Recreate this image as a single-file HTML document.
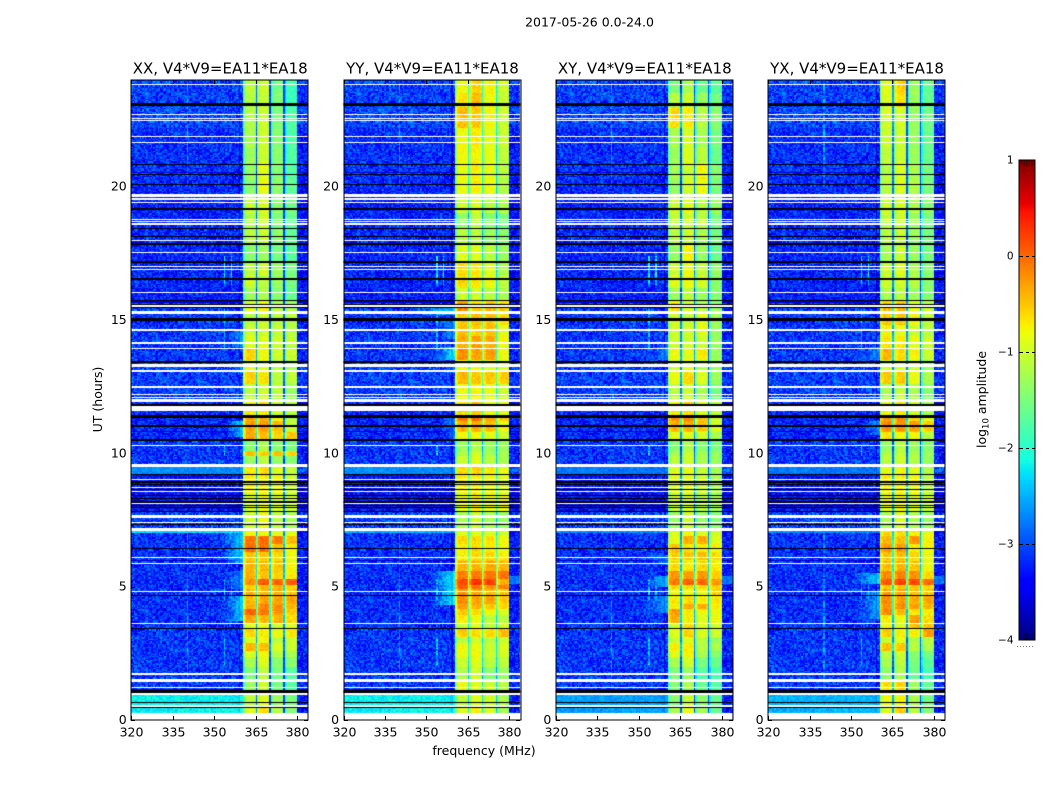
<!DOCTYPE html>
<html lang="en">
<head>
<meta charset="utf-8">
<title>2017-05-26 0.0-24.0</title>
<style>
html,body{margin:0;padding:0;background:#fff}
#figure{position:relative;width:1050px;height:800px;overflow:hidden;background:#fff;font-family:"DejaVu Sans","Liberation Sans",sans-serif}
#figure canvas{position:absolute;left:0;top:0}
#figure svg{position:absolute;left:0;top:0}
text{font-family:"DejaVu Sans","Liberation Sans",sans-serif;fill:#000}
</style>
</head>
<body>
<div id="figure">
<canvas id="heat" width="1050" height="800"></canvas>
<svg id="overlay" width="1050" height="800" viewBox="0 0 1050 800">
  <text x="589.5" y="26.5" font-size="12.5" text-anchor="middle">2017-05-26 0.0-24.0</text>
  <text x="484" y="755" font-size="12.5" text-anchor="middle">frequency (MHz)</text>
  <text transform="translate(102,399.5) rotate(-90)" font-size="12.5" text-anchor="middle">UT (hours)</text>
  <text transform="translate(986,399.5) rotate(-90)" font-size="12.5" text-anchor="middle">log<tspan font-size="8.5" dy="2.5">10</tspan><tspan dy="-2.5"> amplitude</tspan></text>
  <g id="axes"></g>
  <g id="cbar"></g>
</svg>
</div>
<script>
// ---- categories and axis ticks ----
const panelTitles = ['XX, V4*V9=EA11*EA18','YY, V4*V9=EA11*EA18','XY, V4*V9=EA11*EA18','YX, V4*V9=EA11*EA18'];
const freqTicks = [320,335,350,365,380];
const hourTicks = [0,5,10,15,20];
const colorTicks = [1,0,-1,-2,-3,-4];
const spwRanges = [[360.5,365],[365.5,370],[370.5,375],[375.5,380]];
// drop in log10 amplitude at the gaps between spectral windows, per panel
const gapDrop = [-1.75,-1.2,-1.7,-1.7];
// ---- time bins (UT hours) shared by the amplitude tables below ----
const hourEdges = [0,.5,1,1.5,2,2.35,2.6,2.9,3.1,3.4,3.65,3.95,4.15,4.35,4.65,4.9,5.05,5.3,5.6,6,6.3,6.6,6.9,7.1,7.8,8.5,9.2,9.6,9.9,10.1,10.5,10.8,11.2,11.45,12,12.6,13.05,13.5,13.9,14.4,14.8,15.3,15.7,16.2,16.7,17.2,17.8,18.4,19,19.7,20.3,20.9,21.5,22.2,23,23.5,24];
// log10 amplitude of the out-of-band noise floor per time bin
const backgroundLevel = [-3.15,-3.15,-3.15,-3.15,-3.15,-3.15,-3.15,-3.15,-3.15,-3.2,-3.2,-3.2,-3.2,-3.2,-3.2,-3.2,-3.2,-3.2,-3.2,-3.2,-3.2,-3.2,-3.2,-3.1,-3.4,-3.4,-2.95,-3.15,-3.15,-3.15,-3.25,-3.25,-3.25,-3.25,-3.1,-3.1,-3.1,-3.15,-3.15,-3.15,-3.15,-3.15,-3.3,-3.25,-3.25,-3.25,-3.25,-3.25,-3.3,-3.25,-3.2,-3.2,-3.2,-3.05,-3.1,-3.1];
// log10 amplitude per time bin, one tuple per spectral window
const xxBands = [[-.9,-.6,-1.1,-1.4],[-1.1,-.9,-1.3,-1.5],[-1.3,-1,-1.5,-1.7],[-1.5,-1.1,-1.5,-1.7],[-1.2,-.9,-1.4,-1.4],[-.9,-.8,-1.1,-1.2],[-.4,-.45,-.9,-1],[-.9,-.8,-1.1,-1],[-.6,-.7,-.8,-.7],[-.9,-.8,-1,-.9],[-.3,-.4,-.4,-.6],[.05,-.05,-.25,-.5],[-.4,-.15,-.2,-.4],[-.45,-.3,-.3,-.35],[-.4,-.4,-.35,-.5],[-.6,-.4,-.4,-.55],[-.2,.1,.05,.1],[-.35,-.5,-.55,-.7],[-.4,-.45,-.5,-.75],[-.45,-.5,-.6,-.8],[0,0,-.45,-.7],[-.05,0,-.1,-.45],[-.8,-.8,-.85,-.9],[-1,-.8,-1.1,-1.2],[-.9,-.8,-.9,-1],[-.7,-.7,-.8,-1],[-.7,-.6,-.9,-1.1],[-1.3,-1.1,-1.3,-1.4],[-.45,-.55,-.45,-.55],[-1.4,-1.2,-1.4,-1.5],[-.35,-.45,-.6,-.5],[-.25,-.25,-.45,-1],[-.35,-.4,-.7,-1.1],[-.7,-.7,-1,-1.1],[-1.1,-1,-1.1,-1.3],[-.55,-.65,-1.1,-1.1],[-.9,-.9,-1.1,-1.2],[-.55,-.8,-1,-1],[-.9,-.9,-1,-1.1],[-1,-1,-1.05,-1.1],[-1.1,-1,-1.1,-1.1],[-.85,-.7,-1.1,-1.2],[-1.3,-1.2,-1.4,-1.6],[-1,-1.1,-1.3,-1.5],[-1.1,-1,-1.3,-1.5],[-1.4,-1.3,-1.5,-1.7],[-1.1,-1,-1.35,-1.65],[-1.2,-1,-1.45,-1.6],[-1.05,-.9,-1.35,-1.55],[-1.4,-.85,-1.35,-1.65],[-1.3,-.85,-1.4,-1.7],[-1.3,-1,-1.4,-1.75],[-1.2,-1,-1.4,-1.75],[-1.15,-1,-1.45,-1.75],[-1.15,-1.05,-1.45,-1.85],[-1.1,-1,-1.55,-1.85]];
const yyBands = [[-.9,-.7,-.9,-1.2],[-1.1,-.9,-1,-1.2],[-.8,-.9,-1,-1.1],[-1.2,-1,-1.4,-1.3],[-1,-.9,-1.1,-1.1],[-.8,-.8,-1,-.95],[-.8,-.8,-1,-.9],[-1.1,-1,-1.1,-1],[-.55,-.6,-.6,-.45],[-1,-.9,-1.1,-1],[-.7,-.8,-1.1,-1.1],[-.5,-.6,-.8,-.9],[-.3,-.4,-.5,-.6],[-.2,-.3,-.3,-.55],[-.25,-.3,-.4,-.5],[.05,-.05,-.25,-.1],[.15,.3,.25,-.35],[-.1,-.1,-.05,-.05],[-.4,-.4,-.35,-.4],[-.7,-.6,-.6,-.7],[-.7,-.6,-.7,-.8],[-.6,-.6,-.65,-.8],[-.9,-.9,-.9,-1],[-1.2,-1,-1.2,-1.3],[-.8,-.7,-.8,-.8],[-.7,-.7,-.8,-.9],[-.6,-.55,-.7,-.9],[-1,-.9,-1.1,-1.2],[-1.2,-1,-1.2,-1.2],[-1.3,-1.2,-1.3,-1.3],[-.8,-.8,-.9,-1],[-.35,-.35,-.45,-.8],[-.1,-.05,-.3,-.5],[-.6,-.5,-.8,-.9],[-.8,-.75,-.85,-1],[-.4,-.5,-.5,-.55],[-.8,-.8,-.85,-.9],[-.2,-.3,-.3,-.8],[-.35,-.3,-.35,-.8],[-.45,-.55,-.45,-.85],[-.5,-.45,-.45,-.6],[-.15,-.5,-.4,-.5],[-1,-1,-1.1,-1.2],[-.6,-.65,-.8,-1.1],[-.6,-.7,-.9,-1.2],[-.9,-.9,-1.1,-1.3],[-1.1,-1.1,-1.3,-1.4],[-1.4,-1.1,-1.4,-1.5],[-1,-.9,-1.1,-1.2],[-.85,-.75,-.8,-1.15],[-.8,-.7,-.85,-1.1],[-.8,-.75,-.85,-1.1],[-.8,-.7,-.85,-1],[-.45,-.5,-.75,-1],[-.65,-.45,-.8,-1],[-.8,-.55,-.75,-1]];
const xyBands = [[-1.2,-.8,-1.2,-1.6],[-1.4,-1,-1.4,-1.6],[-1.4,-1.2,-1.6,-1.7],[-1.5,-1.3,-1.7,-1.8],[-1.2,-1,-1.5,-1.6],[-.85,-.75,-1.2,-1.4],[-.7,-.7,-1.1,-1.2],[-1,-.9,-1.1,-1.3],[-.9,-.55,-.9,-1],[-1,-.6,-.9,-1],[-.35,-.7,-.9,-.8],[-.25,-.65,-.8,-.8],[-.75,-.35,-.35,-.7],[-.7,-.6,-.7,-.7],[-.8,-.8,-.8,-.55],[-.6,-.6,-.6,-.55],[-.1,.05,.05,-.25],[-.2,-.3,-.25,-.55],[-.6,-.7,-.6,-.7],[-.5,-.5,-.45,-.6],[-.45,-.65,-.7,-.75],[-.85,-.35,-.35,-.9],[-.9,-.8,-.9,-1],[-1.3,-1,-1.3,-1.4],[-1,-.95,-1.1,-1.2],[-.9,-.85,-1,-1.2],[-.9,-.85,-1.05,-1.3],[-1.1,-1,-1.2,-1.3],[-1.3,-1.05,-1.2,-1.3],[-1.4,-1.2,-1.4,-1.5],[-.9,-.9,-1,-1.2],[-.35,-.35,-.5,-.9],[-.25,-.2,-.45,-.95],[-.7,-.6,-.9,-1.1],[-1.1,-1,-1.2,-1.5],[-.8,-.6,-.9,-1.3],[-1,-.85,-1.1,-1.3],[-.8,-.85,-.7,-1.3],[-1,-1,-1,-1.3],[-1,-1,-.85,-1.3],[-.95,-1.05,-.85,-1.25],[-.6,-.9,-1.1,-1.3],[-1.3,-1.1,-1.3,-1.4],[-.9,-.8,-.95,-1.4],[-1,-.85,-1.05,-1.35],[-1.3,-.75,-1.3,-1.6],[-1.1,-1,-1.2,-1.5],[-1.1,-1,-1.1,-1.5],[-1,-.85,-1.1,-1.3],[-1.3,-1,-.8,-1.5],[-1.2,-1,-.75,-1.4],[-1.3,-.9,-1.1,-1.6],[-1.2,-.95,-1.2,-1.5],[-.6,-.7,-1.1,-1.4],[-1.1,-1,-1.3,-1.5],[-1.5,-1.2,-1.6,-1.7]];
const yxBands = [[-.9,-.5,-1.1,-1.4],[-.8,-.75,-1.2,-1.5],[-.6,-.55,-1.3,-1.6],[-1.4,-1.2,-1.6,-1.8],[-1.2,-1.1,-1.5,-1.7],[-1.1,-1,-1.4,-1.5],[-.45,-.5,-1.1,-1.2],[-1,-.9,-1.2,-1.1],[-.55,-.7,-.7,-.3],[-.8,-.9,-.45,-.5],[-.7,-.8,-.3,-.6],[-.15,-.4,-.7,-.7],[-.25,-.2,-.3,-.4],[-.2,-.25,-.35,-.35],[-.3,-.3,-.45,-.5],[-.55,-.5,-.5,-.6],[.1,.2,.2,0],[-.15,-.15,-.2,-.6],[-.45,-.4,-.5,-.8],[-.45,-.45,-.6,-.8],[-.25,-.25,-.7,-.75],[-.4,-.45,-.25,-.75],[-.6,-.6,-.7,-.85],[-1.2,-.9,-1.2,-1.3],[-.8,-.75,-.9,-1],[-.7,-.7,-.8,-1.1],[-.85,-.75,-.9,-1.2],[-1.1,-1,-1.15,-1.3],[-1.2,-1.1,-1.2,-1.3],[-1.3,-1.15,-1.3,-1.4],[-.7,-.8,-.8,-1.1],[-.15,-.2,-.3,-.5],[-.3,-.2,-.55,-.85],[-.8,-.7,-1,-1.2],[-1.2,-1.05,-1.2,-1.4],[-.5,-.55,-.8,-1.2],[-1,-.95,-1,-1.3],[-.4,-.6,-.75,-1],[-.65,-.7,-.85,-1],[-.75,-.85,-1,-1.1],[-.5,-.5,-.75,-1.05],[-.45,-.4,-.85,-1],[-1.2,-1.1,-1.3,-1.4],[-1,-.95,-1.15,-1.4],[-1,-.9,-1.2,-1.4],[-1.2,-1,-1.3,-1.5],[-1.1,-1,-1.3,-1.5],[-1.1,-1,-1.3,-1.5],[-1,-.9,-1.15,-1.4],[-1.1,-.95,-1.15,-1.5],[-1.1,-.9,-1.2,-1.5],[-1.1,-1,-1.3,-1.6],[-1,-1,-1.3,-1.6],[-.95,-.95,-1.3,-1.55],[-.9,-.65,-1.3,-1.6],[-.9,-.55,-1.3,-1.65]];
// out-of-band excess: [startHour, endHour, log10 amplitude, startMHz, endMHz]
const xxExcess = [[.2,1,-2.2,320,360.5],[7,7.2,-2.3,320,360.5],[9.2,9.5,-2.7,320,360.5],[3.7,4.7,-2.3,353,360.5],[4.9,5.6,-2.6,354,360.5],[5.9,7,-2.3,352,360.5],[10.6,11.2,-2.2,354,360.5],[13,13.5,-2.6,355,360.5],[14,14.6,-2.6,355,360.5]];
const yyExcess = [[.2,1,-2.2,320,360.5],[7,7.2,-2.5,320,360.5],[9.2,9.5,-2.7,320,360.5],[4.3,5.6,-2.1,351,360.5],[5.1,5.4,-2.8,380,384],[10.5,11.4,-2.6,355,360.5],[13,13.4,-2.7,355,360.5],[13.5,14,-2,353,360.5],[14.3,15,-2.5,355,360.5],[15.2,15.5,-2.3,345,360.5]];
const xyExcess = [[.2,1,-2.6,320,360.5],[7,7.2,-2.7,320,360.5],[9.2,9.5,-2.8,320,360.5],[4,4.7,-2.6,350,360.5],[5,5.4,-2.4,352,360.5],[5.1,5.4,-2.8,380,384],[5.8,6.2,-2.7,350,360.5],[13.5,14,-2.6,354,360.5]];
const yxExcess = [[.2,1,-2.5,320,360.5],[7,7.2,-2.7,320,360.5],[9.2,9.5,-2.8,320,360.5],[3.8,4.8,-2.5,352,360.5],[5.1,5.5,-2.3,350,360.5],[5.1,5.4,-2.8,380,384],[10.7,11.2,-2.5,354,360.5],[13.5,14,-2.6,353,360.5]];
// narrow interference: [MHz, startHour, endHour, log10 amplitude]
const interferenceLines = [[353.5,16.3,17.4,-2.2],[356,16.3,17.4,-2.3],[353.5,2,3.1,-2.5],[353.5,4.5,5.3,-2.5],[356,4.5,5.3,-2.6],[353.5,9.9,10.3,-2.4],[353.5,13.9,15.6,-2.6],[340,0,7,-2.8],[340,20,24,-2.7]];
// flagged integrations, [centre hour, duration hours]
const flaggedWhite = [[23.84,.05],[22.71,.04],[22.56,.04],[22.48,.04],[21.87,.05],[21.66,.05],[19.66,.11],[19.53,.08],[19.42,.04],[18.78,.04],[18.68,.04],[18.6,.04],[17.97,.05],[17.53,.05],[16.99,.04],[16.9,.04],[16.03,.05],[15.52,.05],[15.27,.11],[14.63,.08],[14.14,.05],[13.93,.05],[13.28,.11],[13.09,.05],[12.49,.05],[12.21,.04],[12.11,.04],[11.97,.11],[11.67,.19],[10.29,.05],[9.54,.1],[9.02,.07],[8.72,.05],[8.57,.05],[8.12,.05],[7.62,.1],[7.4,.05],[7.13,.11],[6.09,.05],[5.87,.05],[4.83,.05],[3.63,.05],[1.73,.05],[1.48,.08],[1.21,.05],[.96,.08],[.53,.1],[.125,.25]];
const flaggedBlack = [[23.09,.1],[20.83,.05],[20.46,.05],[20.09,.05],[19.16,.07],[18.43,.07],[18.14,.05],[17.85,.08],[17.19,.07],[16.54,.05],[15.74,.05],[15.59,.05],[15.46,.05],[15.05,.05],[15,.04],[13.43,.06],[11.8,.08],[11.39,.1],[11.02,.05],[10.49,.07],[9.2,.05],[8.92,.05],[8.83,.04],[8.65,.04],[8.42,.05],[8.3,.04],[8.17,.05],[8.03,.04],[7.98,.05],[7.82,.05],[7.34,.05],[6.42,.05],[4.66,.05],[3.42,.05],[1.06,.1],[.66,.05],[.47,.06]];
// within-window gain roll-off, log10 offset across ten steps of a spectral window
const bandProfile = [-.5,-.18,-.03,0,0,0,0,-.03,-.1,-.3];
// short fixed grain table giving the noise-floor its speckled look
const speckleTable = [.21,-.33,.08,.41,-.12,-.38,.29,.02,-.24,.36,-.07,-.41,.17,.33,-.2,.05,-.3,.44,-.15,.11,-.36,.26,-.02,-.28,.39,.14,-.44,.07,.31,-.18,-.09,.23,-.34,.42,-.05,.16,-.26,.35,-.4,.03,.19,-.13,.28,-.37,.1,.45,-.22,-.01,.34,-.31,.13,-.16,.38,-.43,.06,.24,-.1,-.27,.4,-.04,.18,-.35,.3,.01,-.19,.43,-.08,-.29,.15,.37,-.42,.09,.22,-.14,-.32,.32,-.06,.12,-.39,.27,.04,-.23,.41,-.11,-.3,.2,.35,-.17,-.03,.25,-.45,.1,.33,-.21,.16,-.07,.29];

const panelBands = [xxBands,yyBands,xyBands,yxBands];
const panelExcess = [xxExcess,yyExcess,xyExcess,yxExcess];

// ---- axis functions ----
const plotTop = 80, plotBottom = 720, plotWidth = 176.9, firstLeft = 131.25, panelStep = 212.28;
const freqMin = 320, freqMax = 384, hourMax = 24;
const panelLeft = p => firstLeft + p * panelStep;
const xScale = (p, f) => panelLeft(p) + (f - freqMin) / (freqMax - freqMin) * plotWidth;
const yScale = h => plotBottom - h / hourMax * (plotBottom - plotTop);
const cbarLeft = 1019.5, cbarRight = 1035, cbarTop = 160, cbarBottom = 640;
const cbarY = v => cbarTop + (1 - v) / 5 * (cbarBottom - cbarTop);

function jet(v) {
  const t = Math.max(0, Math.min(1, (v + 4) / 5));
  const seg = (pts) => {
    for (let i = 1; i < pts.length; i++) {
      if (t <= pts[i][0]) {
        const a = pts[i - 1], b = pts[i];
        return a[1] + (b[1] - a[1]) * (t - a[0]) / (b[0] - a[0]);
      }
    }
    return pts[pts.length - 1][1];
  };
  const r = seg([[0,0],[.35,0],[.66,1],[.89,1],[1,.5]]);
  const g = seg([[0,0],[.125,0],[.375,1],[.64,1],[.91,0],[1,0]]);
  const b = seg([[0,.5],[.11,1],[.34,1],[.65,0],[1,0]]);
  return 'rgb(' + Math.round(r * 255) + ',' + Math.round(g * 255) + ',' + Math.round(b * 255) + ')';
}

function rowIndex(h) {
  for (let i = 0; i < hourEdges.length - 1; i++) if (h < hourEdges[i + 1]) return i;
  return hourEdges.length - 2;
}

function cellValue(p, c, r, f, h) {
  const i = rowIndex(h);
  const grain = speckleTable[(c * 31 + r * 57 + c * r * 3) % speckleTable.length];
  const bands = panelBands[p][i];
  for (let s = 0; s < spwRanges.length; s++) {
    const lo = spwRanges[s][0], hi = spwRanges[s][1];
    if (f >= lo && f < hi) {
      const k = Math.min(bandProfile.length - 1, Math.floor((f - lo) / (hi - lo) * bandProfile.length));
      return bands[s] + bandProfile[k] + grain * 0.3;
    }
    if (f >= hi && s < spwRanges.length - 1 && f < spwRanges[s + 1][0]) {
      return Math.max(-3.05, Math.min(bands[s], bands[s + 1]) + gapDrop[p]) + grain * 0.3;
    }
  }
  let level = backgroundLevel[i];
  let grainScale = 1;
  if (f >= 380) level -= 0.12;
  for (const e of panelExcess[p]) {
    if (h >= e[0] && h < e[1] && f >= e[3] && f < e[4]) {
      const fade = e[3] > 320 && e[4] <= 361 ? (f - e[3]) / (e[4] - e[3]) : 1;
      level = Math.max(level, level + (e[2] - level) * fade);
      grainScale = 1 - 0.6 * fade;
    }
  }
  for (const l of interferenceLines) {
    if (f <= l[0] && f + 0.5 > l[0] && h >= l[1] && h < l[2]) level = Math.max(level, l[3]);
  }
  return level + grain * grainScale;
}

// ---- draw heatmap cells ----
const heat = document.getElementById('heat').getContext('2d');
const channelMHz = 0.5, rowHours = 0.05;
for (let p = 0; p < panelTitles.length; p++) {
  const channels = Math.round((freqMax - freqMin) / channelMHz);
  const rows = Math.round(hourMax / rowHours);
  for (let c = 0; c < channels; c++) {
    const f = freqMin + c * channelMHz;
    const x0 = Math.round(xScale(p, f)), x1 = Math.round(xScale(p, f + channelMHz));
    for (let r = 0; r < rows; r++) {
      const h = r * rowHours;
      const y1 = Math.round(yScale(h)), y0 = Math.round(yScale(h + rowHours));
      heat.fillStyle = jet(cellValue(p, c, r, f, h));
      heat.fillRect(x0, y0, x1 - x0, y1 - y0);
    }
  }
  const left = panelLeft(p);
  const band = (list, color) => {
    heat.fillStyle = color;
    for (const item of list) {
      const y0 = yScale(item[0] + item[1] / 2), y1 = yScale(item[0] - item[1] / 2);
      const top = Math.round(y0);
      heat.fillRect(left, top, plotWidth, Math.max(1, Math.round(y1) - top));
    }
  };
  band(flaggedWhite, '#fff');
  band(flaggedBlack, '#000');
}

// ---- colorbar ----
for (let y = cbarTop; y < cbarBottom; y++) {
  heat.fillStyle = jet(1 - (y + 0.5 - cbarTop) / (cbarBottom - cbarTop) * 5);
  heat.fillRect(Math.floor(cbarLeft), y, Math.ceil(cbarRight - cbarLeft), 1);
}

// ---- svg axes ----
const NS = 'http://www.w3.org/2000/svg';
function svgEl(tag, parent, attrs) {
  const el = document.createElementNS(NS, tag);
  for (const k in attrs) el.setAttribute(k, attrs[k]);
  parent.appendChild(el);
  return el;
}
const axesGroup = document.getElementById('axes');
for (let p = 0; p < panelTitles.length; p++) {
  const left = panelLeft(p), right = left + plotWidth;
  const g = svgEl('g', axesGroup, {});
  
  
  const frame = svgEl('rect', g, {x: Math.round(left), y: plotTop, width: Math.round(plotWidth), height: plotBottom - plotTop, fill: 'none', stroke: '#000', 'stroke-width': 1});
  
  
  const title = svgEl('text', g, {x: left + plotWidth / 2 + 0.5, y: 73.5, 'font-size': 15, 'text-anchor': 'middle'});
  title.textContent = panelTitles[p];
  
  
  for (const f of freqTicks) {
    const x = Math.round(xScale(p, f)) + 0.5;
    const t1 = svgEl('line', g, {x1: x, x2: x, y1: plotBottom, y2: plotBottom - 4, stroke: '#000', 'stroke-width': 1});
    
    
    const t2 = svgEl('line', g, {x1: x, x2: x, y1: plotTop, y2: plotTop + 4, stroke: '#000', 'stroke-width': 1});
    
    
    const label = svgEl('text', g, {x: x, y: 736.5, 'font-size': 12.5, 'text-anchor': 'middle'});
    label.textContent = String(f);
    
    
  }
  for (const h of hourTicks) {
    const y = Math.round(yScale(h)) + 0.5;
    const t1 = svgEl('line', g, {x1: Math.round(left), x2: Math.round(left) + 4, y1: y, y2: y, stroke: '#000', 'stroke-width': 1});
    
    
    const t2 = svgEl('line', g, {x1: Math.round(right), x2: Math.round(right) - 4, y1: y, y2: y, stroke: '#000', 'stroke-width': 1});
    
    
    const label = svgEl('text', g, {x: left - 4.5, y: yScale(h) + 4, 'font-size': 12.5, 'text-anchor': 'end'});
    label.textContent = String(h);
    
    
  }
}
const cbarGroup = document.getElementById('cbar');
const cbarFrame = svgEl('rect', cbarGroup, {x: 1019, y: cbarTop, width: 16, height: cbarBottom - cbarTop, fill: 'none', stroke: '#000', 'stroke-width': 1});


for (const v of colorTicks) {
  const y = cbarY(v);
  const label = svgEl('text', cbarGroup, {x: 1013.5, y: y + 3.5, 'font-size': 10.5, 'text-anchor': 'end'});
  label.textContent = v < 0 ? '\u2212' + Math.abs(v) : String(v);
  
  
  if (v < 1 && v > -4) {
    const tick = svgEl('line', cbarGroup, {x1: 1019, x2: 1035, y1: y + 0.5, y2: y + 0.5, stroke: '#000', 'stroke-width': 1, 'stroke-dasharray': '4 3 3 3 4'});
    
    
  } else {
    const top = v === 1;
    const mark = svgEl('line', cbarGroup, {x1: 1021, x2: 1034, y1: top ? y + 3 : y - 3, y2: top ? y + 3 : y - 3, stroke: '#000', 'stroke-opacity': 0.65, 'stroke-width': 6, 'stroke-dasharray': '1 1.6'});
    
    
  }
}
const cbarDots = svgEl('line', cbarGroup, {x1: 1017, x2: 1035, y1: 646.5, y2: 646.5, stroke: '#777', 'stroke-width': 1, 'stroke-dasharray': '1 2'});


</script>
</body>
</html>
